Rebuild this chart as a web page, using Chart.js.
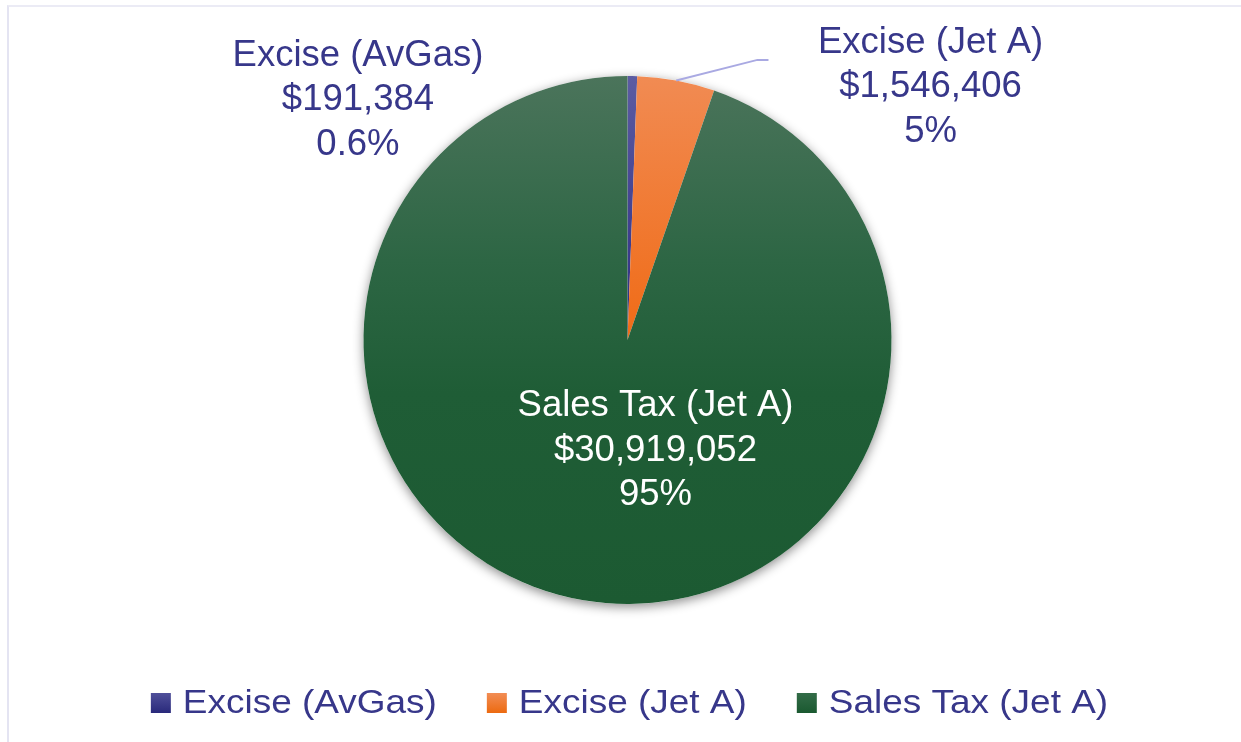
<!DOCTYPE html>
<html>
<head>
<meta charset="utf-8">
<script src="https://cdn.jsdelivr.net/npm/chart.js@4.4.1/dist/chart.umd.min.js"></script>
<style>
  html, body { margin: 0; padding: 0; background: #ffffff; }
  #wrap { position: relative; width: 1241px; height: 742px; overflow: hidden; }
  #frame { position: absolute; left: 7px; top: 5px; right: -5px; bottom: -5px;
           border-top: 2px solid #ebebf5; border-left: 2px solid #e4e4f2; }
  canvas { position: absolute; left: 0; top: 0; }
</style>
</head>
<body>
<div id="wrap">
  <div id="frame"></div>
  <canvas id="c" width="1241" height="742"></canvas>
</div>
<script>
// ---- data ----
const categories = ['Excise (AvGas)', 'Excise (Jet A)', 'Sales Tax (Jet A)'];
const revenues = [191384, 1546406, 30919052];
const percentLabels = ['0.6%', '5%', '95%'];

// ---- styles ----
const solidColors = ['#37378a', '#f07224', '#1e5c35'];
const gradientStops = [
  [[0, '#5c5ca2'], [0.5, '#2c2c82'], [1, '#2a2a7c']],
  [[0, '#f18b53'], [0.45, '#f06e1c'], [1, '#f06c1a']],
  [[0, '#4b745b'], [0.35, '#2d6644'], [0.6, '#1f5d36'], [1, '#1c5a32']]
];
const legendStops = [
  ['#50509a', '#29297b'],
  ['#f28d55', '#ec6a10'],
  ['#336c48', '#1a5930']
];
const labelColors = ['#37378a', '#37378a', '#ffffff'];
// label anchor (middle line baseline) in units of the pie radius, relative to the pie centre
const labelAnchors = [[-1.021, -0.871], [1.148, -0.920], [0.106, 0.458]];
const PIE_RADIUS = 264;
const FONT = '"Liberation Sans", Arial, Helvetica, sans-serif';

function sliceFill(ctx) {
  const chart = ctx.chart;
  const area = chart.chartArea;
  const i = ctx.dataIndex;
  if (!area || i === undefined) return solidColors[i || 0];
  const cy = (area.top + area.bottom) / 2;
  const g = chart.ctx.createLinearGradient(0, cy - PIE_RADIUS, 0, cy + PIE_RADIUS);
  gradientStops[i].forEach(s => g.addColorStop(s[0], s[1]));
  return g;
}

const pieShadow = {
  id: 'pieShadow',
  beforeDatasetsDraw(chart) {
    const arc = chart.getDatasetMeta(0).data[0];
    if (!arc) return;
    const c = chart.ctx;
    c.save();
    c.shadowColor = 'rgba(0,0,0,0.45)';
    c.shadowBlur = 11;
    c.shadowOffsetX = 0;
    c.shadowOffsetY = 3;
    c.fillStyle = '#ffffff';
    c.beginPath();
    c.arc(arc.x, arc.y, arc.outerRadius, 0, Math.PI * 2);
    c.fill();
    c.restore();
  }
};

const sliceLabels = {
  id: 'sliceLabels',
  afterDatasetsDraw(chart) {
    const meta = chart.getDatasetMeta(0);
    const c = chart.ctx;
    const lineGap = 44.5;
    meta.data.forEach((arc, i) => {
      const r = arc.outerRadius;
      const ax = arc.x + labelAnchors[i][0] * r;
      const ay = arc.y + labelAnchors[i][1] * r;
      const lines = [categories[i], '$' + revenues[i].toLocaleString('en-US'), percentLabels[i]];
      c.save();
      c.font = '36.5px ' + FONT;
      c.fillStyle = labelColors[i];
      c.textAlign = 'center';
      c.textBaseline = 'alphabetic';
      lines.forEach((t, k) => c.fillText(t, ax, ay + (k - 1) * lineGap));
      c.restore();
    });
    // leader line for the Excise (Jet A) slice
    const jet = meta.data[1];
    if (jet) {
      const mid = (jet.startAngle + jet.endAngle) / 2;
      const r = jet.outerRadius;
      const sx = jet.x + Math.cos(mid) * r;
      const sy = jet.y + Math.sin(mid) * r;
      c.save();
      c.strokeStyle = '#a9a9e2';
      c.lineWidth = 2;
      c.beginPath();
      c.moveTo(sx, sy);
      c.lineTo(jet.x + 0.492 * r, jet.y - 1.061 * r);
      c.lineTo(jet.x + 0.534 * r, jet.y - 1.061 * r);
      c.stroke();
      c.restore();
    }
  }
};

// bottom legend (text horizontally stretched as in the original)
const bottomLegend = {
  id: 'bottomLegend',
  afterDraw(chart) {
    const c = chart.ctx;
    const fontPx = 33, stretch = 1.12;
    const box = 20, boxGap = 12, itemGap = 50;
    c.save();
    c.font = fontPx + 'px ' + FONT;
    const widths = categories.map(t => c.measureText(t).width * stretch);
    const total = widths.reduce((a, w) => a + box + boxGap + w, 0) + itemGap * (categories.length - 1);
    const area = chart.chartArea;
    const cx = (area.left + area.right) / 2 + 2;
    const baseline = chart.height - 29;
    let x = cx - total / 2;
    categories.forEach((name, i) => {
      const g = c.createLinearGradient(0, baseline - box, 0, baseline);
      g.addColorStop(0, legendStops[i][0]);
      g.addColorStop(1, legendStops[i][1]);
      c.fillStyle = g;
      c.fillRect(x, baseline - box, box, box);
      x += box + boxGap;
      c.save();
      c.translate(x, baseline);
      c.scale(stretch, 1);
      c.fillStyle = '#37378a';
      c.textAlign = 'left';
      c.textBaseline = 'alphabetic';
      c.fillText(name, 0, 0);
      c.restore();
      x += widths[i] + itemGap;
    });
    c.restore();
  }
};

new Chart(document.getElementById('c'), {
  type: 'pie',
  data: {
    labels: categories,
    datasets: [{
      data: revenues,
      backgroundColor: sliceFill,
      borderWidth: 0,
      radius: PIE_RADIUS
    }]
  },
  options: {
    responsive: false,
    animation: false,
    devicePixelRatio: 1,
    layout: { padding: { left: 14, right: 0, top: 43.5, bottom: 105.5 } },
    plugins: {
      tooltip: { enabled: false },
      legend: { display: false }
    }
  },
  plugins: [pieShadow, sliceLabels, bottomLegend]
});
</script>
</body>
</html>
